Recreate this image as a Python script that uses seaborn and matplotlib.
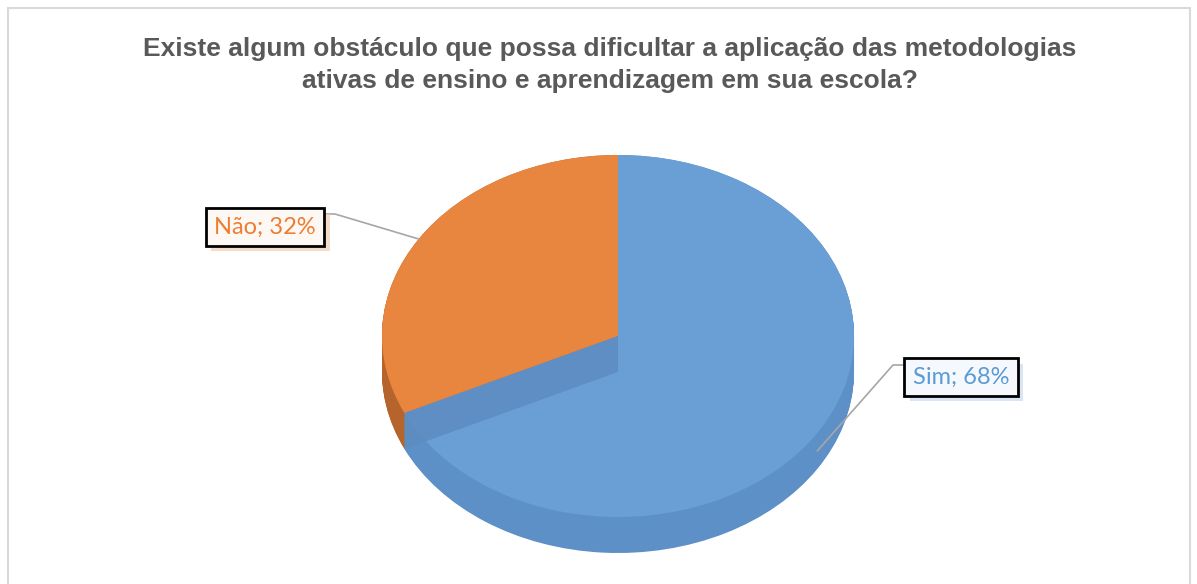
import numpy as np
import matplotlib.pyplot as plt
import matplotlib.patheffects as pe
from matplotlib.patches import Polygon, Rectangle
import seaborn as sns

# --- data ---
categories = ['Sim', 'Não']
shares = [68, 32]
title = ('Existe algum obstáculo que possa dificultar a aplicação das metodologias\n'
         'ativas de ensino e aprendizagem em sua escola?')

sns.set_theme(style='white')
plt.rcParams['font.family'] = ['Liberation Sans', 'DejaVu Sans']

top_colors = ['#6A9FD6', '#E8853F']
side_colors = ['#5E90C8', '#B5642B']
text_colors = ['#5B9BD5', '#ED7D31']
box_colors = ['#F5F9FD', '#FEF8F4']
shadow_colors = ['#C9DAEE', '#F3CDB2']

W, H = 1197, 584
fig = plt.figure(figsize=(W / 100, H / 100), dpi=100)
ax = fig.add_axes([0, 0, 1, 1])

# pie geometry (pixels): centre, radii, thickness of the 3d side
CX, CY, RX, RY, DEPTH = 618, 336, 236, 181, 36
depth = DEPTH / RY


def to_data(px, py):
    return (px - CX) / RX, (CY - py) / RY


# side of the "3d" pie: stacked copies shifted downwards
for dz in np.linspace(depth, 0, 40):
    ax.pie(shares, colors=side_colors, startangle=90, counterclock=False,
           center=(0, -dz), wedgeprops=dict(linewidth=0))

# top face
ax.pie(shares, colors=top_colors, startangle=90, counterclock=False,
       wedgeprops=dict(linewidth=0))

# inner wall visible at the cut between the slices
theta = np.deg2rad(90 - 360 * shares[0] / sum(shares))
ex, ey = np.cos(theta), np.sin(theta)
ax.add_patch(Polygon([(0, 0), (ex, ey), (ex, ey - depth), (0, -depth)],
                     closed=True, fc='#5D8CC0', ec='none', alpha=0.85, zorder=5))

ax.set_aspect('auto')
ax.set_xlim(to_data(0, 0)[0], to_data(W, 0)[0])
ax.set_ylim(to_data(0, H)[1], to_data(0, 0)[1])
ax.axis('off')

# data labels with leader lines
label_pos = [(961, 377), (265, 227)]
line_start = [(903, 365), (325, 214)]
elbow = [(893, 365), (335, 214)]
start = 90
for i, (cat, val) in enumerate(zip(categories, shares)):
    span = 360 * val / sum(shares)
    mid = np.deg2rad(start - span / 2)
    start -= span
    tx, ty = np.cos(mid), np.sin(mid)
    if ty < 0:
        ty -= depth / 2
    p0 = to_data(*line_start[i])
    p1 = to_data(*elbow[i])
    ax.plot([p0[0], p1[0], tx], [p0[1], p1[1], ty], color='#A6A6A6', lw=1.2, zorder=6)

    lx, ly = to_data(*label_pos[i])
    t = ax.text(lx, ly, f'{cat}; {val}%', ha='center', va='center', fontsize=17,
                family='Lato', color=text_colors[i], zorder=8,
                bbox=dict(boxstyle='square,pad=0.35', fc=box_colors[i], ec='black', lw=2))
    t.get_bbox_patch().set_path_effects([
        pe.SimplePatchShadow(offset=(4, -4), shadow_rgbFace=shadow_colors[i], alpha=0.7),
        pe.Normal()])

fig.text(610 / W, 1 - 65 / H, title, ha='center', va='center', fontsize=19,
         fontweight='bold', color='#595959', linespacing=1.4)

fig.add_artist(Rectangle((8 / W, -0.02), (1190 - 8) / W, (H - 8) / H + 0.02,
                         transform=fig.transFigure, fill=False, ec='#D9D9D9', lw=1.5))

fig.savefig('out.png', dpi=100)
